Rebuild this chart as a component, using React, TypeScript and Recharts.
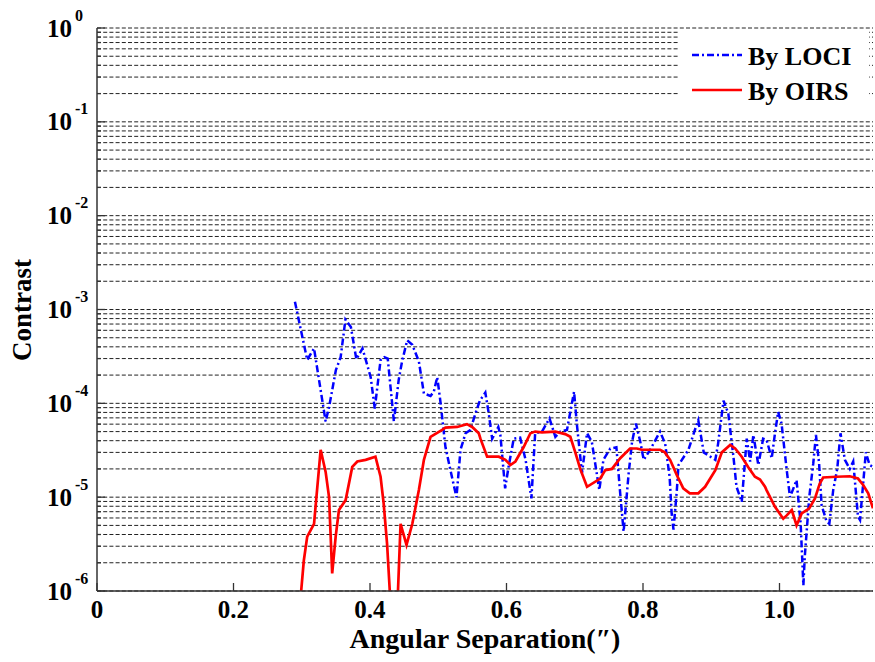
import React from 'react';
import { LineChart, Line, XAxis, YAxis, CartesianGrid } from 'recharts';

// [angular separation ("), contrast]
const LOCI: [number, number][] = [
  [0.290, 1.21e-3], [0.308, 2.9e-4], [0.318, 3.85e-4], [0.335, 6.4e-5], [0.340, 9.1e-5],
  [0.350, 2.26e-4], [0.357, 3.1e-4], [0.364, 7.8e-4], [0.372, 6.5e-4], [0.380, 2.95e-4],
  [0.389, 3.85e-4], [0.401, 1.9e-4], [0.407, 8.8e-5], [0.4155, 2.9e-4], [0.421, 3.1e-4],
  [0.426, 3.0e-4], [0.435, 6.4e-5], [0.442, 1.77e-4], [0.447, 2.8e-4], [0.4545, 4.7e-4],
  [0.462, 4.2e-4], [0.4716, 2.8e-4], [0.479, 1.27e-4], [0.4887, 1.2e-4], [0.4935, 1.33e-4],
  [0.4985, 1.9e-4], [0.503, 1.07e-4], [0.5106, 3.4e-5], [0.520, 1.65e-5], [0.5267, 1.0e-5],
  [0.5326, 3.2e-5], [0.540, 4.8e-5], [0.547, 5.2e-5], [0.5545, 7.8e-5], [0.561, 1.07e-4],
  [0.569, 1.3e-4], [0.574, 7.8e-5], [0.579, 4.2e-5], [0.588, 5.6e-5], [0.591, 4.6e-5],
  [0.598, 1.24e-5], [0.603, 2.1e-5], [0.6106, 4.2e-5], [0.620, 4.3e-5], [0.628, 2.5e-5],
  [0.6365, 9.7e-6], [0.642, 4.8e-5], [0.652, 5.0e-5], [0.663, 6.9e-5], [0.6716, 4.4e-5],
  [0.679, 5.0e-5], [0.6886, 5.2e-5], [0.699, 1.33e-4], [0.703, 6.1e-5], [0.7106, 1.8e-5],
  [0.718, 4.8e-5], [0.725, 3.9e-5], [0.736, 1.19e-5], [0.742, 2.5e-5], [0.752, 3.3e-5],
  [0.761, 3.4e-5], [0.7666, 1.1e-5], [0.7716, 4.3e-6], [0.779, 1.8e-5], [0.784, 3.9e-5],
  [0.7896, 6.1e-5], [0.796, 3.9e-5], [0.801, 2.5e-5], [0.8105, 3.2e-5], [0.825, 5.0e-5],
  [0.8325, 3.7e-5], [0.839, 1.65e-5], [0.842, 6.7e-6], [0.8447, 4.5e-6], [0.8496, 1.19e-5],
  [0.852, 2.2e-5], [0.8666, 3.2e-5], [0.876, 5.2e-5], [0.881, 6.6e-5], [0.889, 3.0e-5],
  [0.906, 2.5e-5], [0.910, 3.7e-5], [0.918, 1.07e-4], [0.925, 7.8e-5], [0.9325, 2.7e-5],
  [0.937, 1.29e-5], [0.9447, 8.9e-6], [0.952, 4.2e-5], [0.957, 2.4e-5], [0.9617, 4.6e-5],
  [0.969, 2.2e-5], [0.976, 4.2e-5], [0.981, 4.1e-5], [0.9886, 2.6e-5], [0.9934, 4.8e-5],
  [0.998, 8.1e-5], [1.003, 6.1e-5], [1.0106, 1.94e-5], [1.0154, 1.0e-5], [1.025, 1.52e-5],
  [1.031, 5.2e-6], [1.035, 1.15e-6], [1.037, 2.3e-6], [1.0436, 1.0e-5], [1.0495, 2.3e-5],
  [1.0534, 4.6e-5], [1.058, 2.3e-5], [1.0617, 8.2e-6], [1.069, 5.5e-6], [1.073, 5.2e-6],
  [1.0787, 1.19e-5], [1.0846, 2.0e-5], [1.0894, 4.8e-5], [1.0958, 2.5e-5], [1.103, 2.0e-5],
  [1.108, 2.4e-5], [1.115, 6.2e-6], [1.118, 5.7e-6], [1.1265, 3.0e-5], [1.132, 2.2e-5],
  [1.137, 2.1e-5],
];

const OIRS: [number, number][] = [
  [0.298, 8e-7], [0.303, 2.1e-6], [0.308, 3.8e-6], [0.318, 5.2e-6], [0.3277, 3.2e-5],
  [0.335, 1.86e-5], [0.340, 1.0e-5], [0.3446, 1.54e-6], [0.3497, 3.8e-6], [0.3545, 7.3e-6],
  [0.3643, 9.3e-6], [0.374, 2.1e-5], [0.3814, 2.4e-5], [0.3936, 2.5e-5], [0.408, 2.7e-5],
  [0.4155, 1.65e-5], [0.420, 8.6e-6], [0.425, 3.2e-6], [0.429, 1.0e-6], [0.435, 3e-7],
  [0.441, 1.0e-6], [0.4448, 5.2e-6], [0.4535, 3.1e-6], [0.462, 5.2e-6], [0.4716, 1.19e-5],
  [0.479, 2.5e-5], [0.4887, 4.4e-5], [0.5057, 5.2e-5], [0.5106, 5.5e-5], [0.5277, 5.6e-5],
  [0.542, 6.0e-5], [0.5497, 5.6e-5], [0.5594, 4.8e-5], [0.5618, 4.2e-5], [0.5716, 2.7e-5],
  [0.5886, 2.7e-5], [0.5984, 2.5e-5], [0.6057, 2.2e-5], [0.613, 2.4e-5], [0.625, 3.4e-5],
  [0.635, 4.8e-5], [0.642, 5.0e-5], [0.652, 4.9e-5], [0.6716, 5.0e-5], [0.686, 4.7e-5],
  [0.6935, 4.4e-5], [0.7008, 3.0e-5], [0.708, 2.0e-5], [0.718, 1.29e-5], [0.7374, 1.58e-5],
  [0.7447, 1.94e-5], [0.7545, 2.0e-5], [0.7666, 2.6e-5], [0.781, 3.3e-5], [0.791, 3.3e-5],
  [0.798, 3.2e-5], [0.8105, 3.2e-5], [0.825, 3.2e-5], [0.832, 3.0e-5], [0.8397, 2.5e-5],
  [0.8496, 1.72e-5], [0.859, 1.24e-5], [0.8686, 1.1e-5], [0.881, 1.1e-5], [0.891, 1.29e-5],
  [0.906, 1.94e-5], [0.9155, 3.0e-5], [0.9276, 3.6e-5], [0.935, 3.3e-5], [0.9447, 2.7e-5],
  [0.954, 2.1e-5], [0.964, 1.65e-5], [0.9715, 1.54e-5], [0.9788, 1.29e-5], [0.981, 1.19e-5],
  [0.9934, 7.9e-6], [1.0055, 5.9e-6], [1.0106, 6.4e-6], [1.018, 7.3e-6], [1.025, 5.0e-6],
  [1.0325, 6.7e-6], [1.0436, 7.6e-6], [1.052, 9.7e-6], [1.059, 1.4e-5], [1.064, 1.62e-5],
  [1.0837, 1.65e-5], [1.103, 1.67e-5], [1.115, 1.58e-5], [1.1226, 1.35e-5], [1.13, 1.1e-5],
  [1.137, 7.6e-6],
];

const X_TICKS = [0, 0.2, 0.4, 0.6, 0.8, 1.0];
const X_LABELS = ['0', '0.2', '0.4', '0.6', '0.8', '1.0'];
const X_DOMAIN = [0, 1.137];
const DECADES = [-6, -5, -4, -3, -2, -1, 0];
const Y_DOMAIN = [1e-6, 1];

// every log tick (1..9 x 10^k) for the dashed grid
const Y_TICKS: number[] = [];
DECADES.forEach((k) => {
  for (let m = 1; m <= 9; m++) {
    if (k === 0 && m > 1) break;
    Y_TICKS.push(Number((m * Math.pow(10, k)).toPrecision(2)));
  }
});

const FONT = '"Liberation Serif", "Times New Roman", serif';
const AXIS = '#333';

const toRows = (pts: [number, number][]) => pts.map(([x, y]) => ({ x, y }));
const lociData = toRows(LOCI);
const oirsData = toRows(OIRS);

const isDecade = (v: number) => Math.abs(Math.log10(v) - Math.round(Math.log10(v))) < 1e-6;

const BottomTick = (props: any) => {
  const { x, y, payload } = props;
  const i = X_TICKS.indexOf(payload.value);
  return (
    <g>
      <line x1={x} y1={y} x2={x} y2={y - 8} stroke={AXIS} strokeWidth={1.3} />
      <text x={x} y={y + 27} textAnchor="middle" fontSize={25} fontWeight="bold" fontFamily={FONT} fill="#000">
        {i >= 0 ? X_LABELS[i] : payload.value}
      </text>
    </g>
  );
};

const TopTick = (props: any) => {
  const { x, y } = props;
  return <line x1={x} y1={y} x2={x} y2={y + 8} stroke={AXIS} strokeWidth={1.3} />;
};

const LeftTick = (props: any) => {
  const { x, y, payload } = props;
  const v = payload.value;
  if (!isDecade(v)) {
    return <line x1={x} y1={y} x2={x + 4} y2={y} stroke={AXIS} strokeWidth={1.3} />;
  }
  const exp = Math.round(Math.log10(v));
  return (
    <g>
      <line x1={x} y1={y} x2={x + 8} y2={y} stroke={AXIS} strokeWidth={1.3} />
      <text x={x - 25} y={y} textAnchor="end" dominantBaseline="central" fontSize={25} fontWeight="bold" fontFamily={FONT} fill="#000">
        10
      </text>
      <text x={x - 22} y={y - 13} dominantBaseline="central" fontSize={16} fontWeight="bold" fontFamily={FONT} fill="#000">
        {exp === 0 ? '0' : `-${-exp}`}
      </text>
    </g>
  );
};

const RightTick = (props: any) => {
  const { x, y, payload } = props;
  const len = isDecade(payload.value) ? 8 : 4;
  return <line x1={x} y1={y} x2={x - len} y2={y} stroke={AXIS} strokeWidth={1.3} />;
};

const textStyle: React.CSSProperties = {
  position: 'absolute',
  fontFamily: FONT,
  fontWeight: 'bold',
  color: '#000',
  whiteSpace: 'nowrap',
  lineHeight: 1,
};

export default function App() {
  return (
    <div style={{ position: 'absolute', left: 0, top: 0, width: 875, height: 662, background: '#fff' }}>
      <LineChart width={875} height={662} margin={{ top: 28, right: 2, bottom: 0, left: 0 }}>
        <CartesianGrid xAxisId="b" yAxisId="l" vertical={false} stroke="#222" strokeDasharray="4 2.2" />
        <Line
          data={lociData}
          dataKey="y"
          xAxisId="b"
          yAxisId="l"
          type="linear"
          stroke="#0000ff"
          strokeWidth={2.5}
          strokeDasharray="7 3 2 3"
          dot={false}
          isAnimationActive={false}
        />
        <Line
          data={oirsData}
          dataKey="y"
          xAxisId="b"
          yAxisId="l"
          type="linear"
          stroke="#ff0000"
          strokeWidth={2.7}
          dot={false}
          isAnimationActive={false}
        />
        <XAxis
          xAxisId="b"
          type="number"
          dataKey="x"
          domain={X_DOMAIN}
          allowDataOverflow
          ticks={X_TICKS}
          interval={0}
          height={71}
          tickSize={0}
          tickMargin={0}
          tickLine={false}
          tick={BottomTick}
          axisLine={{ stroke: AXIS, strokeWidth: 1.5 }}
        />
        <XAxis
          xAxisId="t"
          orientation="top"
          type="number"
          dataKey="x"
          domain={X_DOMAIN}
          allowDataOverflow
          ticks={X_TICKS}
          interval={0}
          height={0}
          tickSize={0}
          tickMargin={0}
          tickLine={false}
          tick={TopTick}
          axisLine={{ stroke: AXIS, strokeWidth: 1.5 }}
        />
        <YAxis
          yAxisId="l"
          scale="log"
          type="number"
          domain={Y_DOMAIN}
          allowDataOverflow
          ticks={Y_TICKS}
          interval={0}
          width={97}
          tickSize={0}
          tickMargin={0}
          tickLine={false}
          tick={LeftTick}
          axisLine={{ stroke: AXIS, strokeWidth: 1.5 }}
        />
        <YAxis
          yAxisId="r"
          orientation="right"
          scale="log"
          type="number"
          domain={Y_DOMAIN}
          allowDataOverflow
          ticks={Y_TICKS}
          interval={0}
          width={0}
          tickSize={0}
          tickMargin={0}
          tickLine={false}
          tick={RightTick}
          axisLine={{ stroke: AXIS, strokeWidth: 1.5 }}
        />
      </LineChart>

      {/* legend: white box that hides the grid behind it */}
      <div style={{ position: 'absolute', left: 678, top: 30, width: 191, height: 85, background: '#fff' }}>
        <svg width={191} height={85}>
          <line x1={14} y1={25} x2={64} y2={25} stroke="#0000ff" strokeWidth={2.5} strokeDasharray="7 3 2 3" />
          <text x={70} y={35} fontSize={26} fontWeight="bold" fontFamily={FONT} fill="#000">By LOCI</text>
          <line x1={14} y1={60} x2={64} y2={60} stroke="#ff0000" strokeWidth={2.7} />
          <text x={70} y={70} fontSize={26} fontWeight="bold" fontFamily={FONT} fill="#000">By OIRS</text>
        </svg>
      </div>

      <div style={{ ...textStyle, left: 22, top: 310, fontSize: 27, transform: 'translate(-50%, -50%) rotate(-90deg)' }}>
        Contrast
      </div>
      <div style={{ ...textStyle, left: 485, top: 639, fontSize: 28, transform: 'translate(-50%, -50%)' }}>
        Angular Separation(″)
      </div>
    </div>
  );
}
